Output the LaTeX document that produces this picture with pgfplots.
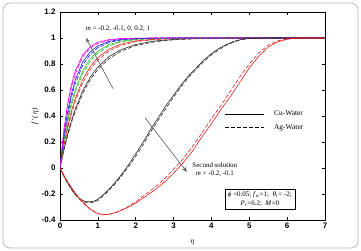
\documentclass[border=0pt]{standalone}
\usepackage{pgfplots}
\pgfplotsset{compat=1.18}
\usepackage{fontspec}
\setmainfont{Liberation Serif}
\newfontfamily\arialfont{Liberation Sans}
\usetikzlibrary{arrows.meta}

\definecolor{cmag}{RGB}{240,0,240}
\definecolor{cblue}{RGB}{20,20,230}
\definecolor{cgreen}{RGB}{40,190,40}
\definecolor{cred}{RGB}{235,30,30}
\definecolor{cblack}{RGB}{40,40,40}

\newcommand{\tickfont}{\arialfont\bfseries\fontsize{8}{9}\selectfont}

\begin{document}
\begin{tikzpicture}[x=1bp,y=1bp]
\useasboundingbox (0,0) rectangle (361,251);
\draw[gray!55, rounded corners=7bp, line width=0.8bp] (3,3) rectangle (358,248);
\begin{axis}[
  at={(60bp,31bp)}, anchor=south west,
  scale only axis, width=265bp, height=208bp,
  xmin=0, xmax=7, ymin=-0.4, ymax=1.2,
  xtick={0,1,...,7},
  ytick={-0.4,-0.2,0,0.2,0.4,0.6,0.8,1,1.2},
  /pgf/number format/assume math mode=true,
  xticklabel={\tickfont\pgfmathprintnumber{\tick}},
  yticklabel={\tickfont\pgfmathprintnumber{\tick}},
  tick align=inside,
  major tick length=3bp,
  tick style={black, line width=0.5bp},
  axis line style={black, line width=0.6bp},
  xticklabel style={yshift=1bp},
  yticklabel style={xshift=-1bp},
  xlabel={\itshape η},
  ylabel={\itshape f\,'(\,η\,)},
  xlabel style={at={(rel axis cs:0.5,-0.11)}, anchor=center, font=\fontsize{7.5}{8}\selectfont},
  ylabel style={at={(rel axis cs:-0.094,0.5)}, anchor=center, font=\fontsize{7.5}{8}\selectfont},
  legend style={draw=none, fill=none, at={(rel axis cs:0.62,0.535)}, anchor=north west,
    font=\fontsize{7.5}{8}\selectfont, row sep=3bp, inner sep=0pt},
  legend cell align=left,
  legend image code/.code={\draw[#1] (0bp,0bp) -- (39bp,0bp);},
  every axis plot/.append style={line width=0.6bp, no markers},
]
\addlegendimage{black, solid}
\addlegendentry{\hspace{8bp}Cu-Water}
\addlegendimage{black, dash pattern=on 4bp off 2bp}
\addlegendentry{\hspace{8bp}Ag-Water}

% first solutions, Cu-Water (solid)
\addplot[cblack] coordinates {(0,0) (0.1,0.139) (0.2,0.259) (0.3,0.362) (0.4,0.451) (0.6,0.593) (0.8,0.699) (1.0,0.777) (1.3,0.858) (1.6,0.909) (2.0,0.950) (2.5,0.977) (3,0.989) (3.5,0.995) (4,0.998) (5,1) (7,1)};
\addplot[cred] coordinates {(0,0) (0.1,0.173) (0.2,0.316) (0.3,0.434) (0.4,0.532) (0.6,0.680) (0.8,0.781) (1.0,0.850) (1.3,0.915) (1.6,0.952) (2.0,0.978) (2.5,0.991) (3,0.997) (3.5,0.999) (4,1) (7,1)};
\addplot[cgreen] coordinates {(0,0) (0.1,0.205) (0.2,0.369) (0.3,0.498) (0.4,0.601) (0.6,0.748) (0.8,0.841) (1.0,0.900) (1.3,0.950) (1.6,0.975) (2.0,0.990) (2.5,0.997) (3,0.999) (3.5,1) (7,1)};
\addplot[cblue] coordinates {(0,0) (0.1,0.244) (0.2,0.429) (0.3,0.568) (0.4,0.674) (0.6,0.814) (0.8,0.894) (1.0,0.939) (1.3,0.974) (1.6,0.989) (2.0,0.996) (2.5,0.999) (3,1) (7,1)};
\addplot[cmag] coordinates {(0,0) (0.1,0.288) (0.2,0.493) (0.3,0.639) (0.4,0.743) (0.6,0.870) (0.8,0.934) (1.0,0.967) (1.3,0.988) (1.6,0.996) (2.0,0.999) (2.5,1) (7,1)};

% first solutions, Ag-Water (dashed)
\addplot[cblack, dash pattern=on 4bp off 2bp] coordinates {(0,0) (0.1,0.132) (0.2,0.247) (0.3,0.347) (0.4,0.433) (0.6,0.573) (0.8,0.679) (1.0,0.758) (1.3,0.842) (1.6,0.897) (2.0,0.942) (2.5,0.971) (3,0.986) (3.5,0.993) (4,0.997) (5,0.999) (6,1) (7,1)};
\addplot[cred, dash pattern=on 4bp off 2bp] coordinates {(0,0) (0.1,0.163) (0.2,0.300) (0.3,0.414) (0.4,0.509) (0.6,0.656) (0.8,0.759) (1.0,0.831) (1.3,0.901) (1.6,0.942) (2.0,0.972) (2.5,0.988) (3,0.995) (3.5,0.998) (4,1) (7,1)};
\addplot[cgreen, dash pattern=on 4bp off 2bp] coordinates {(0,0) (0.1,0.193) (0.2,0.349) (0.3,0.475) (0.4,0.577) (0.6,0.725) (0.8,0.821) (1.0,0.884) (1.3,0.939) (1.6,0.968) (2.0,0.986) (2.5,0.995) (3,0.998) (3.5,1) (7,1)};
\addplot[cblue, dash pattern=on 4bp off 2bp] coordinates {(0,0) (0.1,0.229) (0.2,0.405) (0.3,0.542) (0.4,0.647) (0.6,0.790) (0.8,0.875) (1.0,0.926) (1.3,0.966) (1.6,0.984) (2.0,0.994) (2.5,0.998) (3,1) (7,1)};
\addplot[cmag, dash pattern=on 4bp off 2bp] coordinates {(0,0) (0.1,0.274) (0.2,0.473) (0.3,0.617) (0.4,0.722) (0.6,0.853) (0.8,0.923) (1.0,0.959) (1.3,0.984) (1.6,0.994) (2.0,0.998) (2.5,1) (7,1)};

% second solutions, m = -0.2
\addplot[cblack] coordinates {(0,0) (0.1,-0.06) (0.2,-0.115) (0.3,-0.16) (0.4,-0.20) (0.5,-0.23) (0.6,-0.25) (0.7,-0.26) (0.8,-0.26) (0.9,-0.255) (1.0,-0.24) (1.2,-0.19) (1.4,-0.13) (1.6,-0.06) (1.8,0.02) (2.0,0.11) (2.2,0.20) (2.4,0.30) (2.6,0.39) (2.8,0.48) (3.0,0.56) (3.2,0.64) (3.4,0.71) (3.6,0.77) (3.8,0.83) (4.0,0.88) (4.2,0.92) (4.4,0.95) (4.6,0.975) (4.8,0.99) (5.0,0.997) (5.5,1) (7,1)};
\addplot[cblack, dash pattern=on 4bp off 2bp] coordinates {(0,0) (0.1,-0.062) (0.2,-0.118) (0.3,-0.165) (0.4,-0.205) (0.5,-0.236) (0.6,-0.256) (0.7,-0.266) (0.8,-0.268) (0.9,-0.262) (1.0,-0.25) (1.2,-0.20) (1.4,-0.14) (1.6,-0.07) (1.8,0.005) (2.0,0.09) (2.2,0.18) (2.4,0.28) (2.6,0.37) (2.8,0.46) (3.0,0.545) (3.2,0.625) (3.4,0.70) (3.6,0.76) (3.8,0.82) (4.0,0.87) (4.2,0.91) (4.4,0.945) (4.6,0.97) (4.8,0.987) (5.0,0.995) (5.5,1) (7,1)};

% second solutions, m = -0.1
\addplot[cred] coordinates {(0,0) (0.1,-0.055) (0.2,-0.105) (0.3,-0.15) (0.4,-0.19) (0.5,-0.23) (0.6,-0.26) (0.7,-0.29) (0.8,-0.315) (0.9,-0.335) (1.0,-0.35) (1.15,-0.36) (1.3,-0.355) (1.5,-0.34) (1.75,-0.31) (2.0,-0.27) (2.25,-0.22) (2.5,-0.17) (2.75,-0.11) (3.0,-0.04) (3.25,0.04) (3.5,0.13) (3.75,0.24) (4.0,0.34) (4.25,0.45) (4.5,0.55) (4.75,0.66) (5.0,0.77) (5.25,0.86) (5.5,0.93) (5.75,0.97) (6.0,0.99) (6.3,1) (7,1)};
\addplot[cred, dash pattern=on 4bp off 2bp] coordinates {(0,0) (0.1,-0.057) (0.2,-0.108) (0.3,-0.154) (0.4,-0.195) (0.5,-0.234) (0.6,-0.265) (0.7,-0.294) (0.8,-0.318) (0.9,-0.337) (1.0,-0.351) (1.15,-0.36) (1.3,-0.356) (1.5,-0.338) (1.75,-0.305) (2.0,-0.26) (2.25,-0.205) (2.5,-0.15) (2.75,-0.085) (3.0,-0.01) (3.25,0.07) (3.5,0.165) (3.75,0.27) (4.0,0.38) (4.25,0.48) (4.5,0.59) (4.75,0.70) (5.0,0.80) (5.25,0.885) (5.5,0.945) (5.75,0.978) (6.0,0.993) (6.3,1) (7,1)};

% annotations
\draw[gray!70!black, line width=0.6bp, -{Stealth[length=5bp,width=4bp]}] (axis cs:1.40,0.61) -- (axis cs:0.69,1.0);
\node[anchor=west, font=\fontsize{7}{8}\selectfont, inner sep=0pt] at (axis cs:0.68,1.07) {\textit{m} = -0.2, -0.1, 0, 0.2, 1};
\draw[gray!70!black, line width=0.6bp, -{Stealth[length=5bp,width=4bp]}] (axis cs:2.25,0.385) -- (axis cs:3.35,-0.03);
\node[align=center, font=\fontsize{7}{8}\selectfont, inner sep=0pt] at (axis cs:4.09,-0.012) {Second solution\\\textit{m} = -0.2, -0.1};
\node[draw=black, line width=0.6bp, align=center, font=\fontsize{7}{8.5}\selectfont, inner xsep=3bp, inner ysep=2.5bp] at (axis cs:5.28,-0.24)
  {\textit{ϕ} =0.05; \textit{f}\textsubscript{\itshape w}=1;\ \ \textit{θ}\textsubscript{\itshape r}= -2;\\\textit{P}\textsubscript{\itshape r}=6.2;\ \ \textit{M}=0};
\end{axis}
\end{tikzpicture}
\end{document}
